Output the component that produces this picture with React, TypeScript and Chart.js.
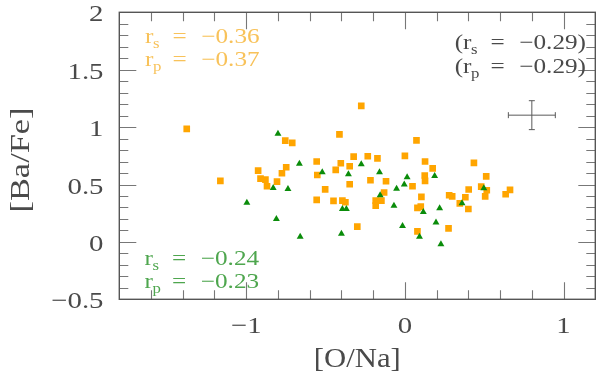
import React, { useEffect, useRef } from "react";
import { Chart, registerables } from "chart.js";

Chart.register(...registerables);

// ---- data ----
const orangeX = [
  -1.375, -0.754, -0.71, -1.163, -0.925, -0.91, -0.879, -0.869, -0.806, -0.775,
  -0.748, -0.556, -0.552, -0.556, -0.275, -0.4125, 0.073, -0.5025, -0.323, -0.404,
  -0.436, -0.348, -0.234, -0.173, -0.348, -0.45, -0.394, -0.375, -0.3, -0.217,
  -0.119, -0.131, -0.184, -0.148, -0.184, 0.0, 0.048, 0.104, 0.127, 0.175,
  0.125, 0.127, 0.079, 0.1, 0.079, 0.275, 0.435, 0.5125, 0.402, 0.481,
  0.516, 0.279, 0.298, 0.381, 0.346, 0.506, 0.4, 0.635, 0.6625,
];
const orangeY = [
  0.984, 0.882, 0.862, 0.531, 0.621, 0.551, 0.543, 0.485, 0.525, 0.598,
  0.65, 0.7, 0.583, 0.366, 1.185, 0.937, 0.885, 0.458, 0.743, 0.685,
  0.627, 0.659, 0.746, 0.728, 0.502, 0.357, 0.36, 0.345, 0.133, 0.537,
  0.528, 0.43, 0.36, 0.36, 0.316, 0.749, 0.485, 0.392, 0.7, 0.641,
  0.578, 0.531, 0.296, 0.307, 0.092, 0.118, 0.688, 0.571, 0.456, 0.482,
  0.45, 0.406, 0.397, 0.389, 0.336, 0.397, 0.287, 0.415, 0.453,
];
const greenX = [
  -0.8, -0.83, -0.737, -0.665, -0.996, -0.81, -0.66, -0.521, -0.356, -0.275,
  -0.394, -0.369, -0.4, -0.16, -0.156, -0.0525, 0.014, -0.004, -0.069, 0.1875,
  0.116, 0.219, -0.015, 0.092, 0.196, 0.227, 0.4975, 0.36,
];
const greenY = [
  0.943, 0.47, 0.46, 0.68, 0.34, 0.2, 0.044, 0.606, 0.589, 0.676,
  0.287, 0.287, 0.07, 0.606, 0.406, 0.462, 0.563, 0.5, 0.314, 0.575,
  0.261, 0.293, 0.139, 0.044, 0.168, -0.021, 0.467, 0.336,
];

// representative error bar
const errX = 0.8;
const errY = 1.104;
const errDx = 0.148;
const errDy = 0.126;

// axes
const xRange = [-1.8, 1.2];
const yRange = [-0.5, 2];
const xTickValues = [-1, 0, 1];
const xTickLabels = ["\u22121", "0", "1"];
const yTickValues = [-0.5, 0, 0.5, 1, 1.5, 2];
const yTickLabels = ["\u22120.5", "0", "0.5", "1", "1.5", "2"];
const xMinorStep = 0.2;
const yMinorStep = 0.1;
const xTitle = "[O/Na]";
const yTitle = "[Ba/Fe]";

// correlation annotations
const orangeStats = ["\u22120.36", "\u22120.37"];
const greenStats = ["\u22120.24", "\u22120.23"];
const allStats = ["\u22120.29", "\u22120.29"];

const ORANGE = "#ffa500";
const GREEN = "#0a8c0a";
const ORANGE_TXT = "#f8c25a";
const GREEN_TXT = "#4ea64e";
const DARK_TXT = "#4a4a4a";
const FONT = '"Liberation Serif", "DejaVu Serif", serif';
const SX = 1.2;

function drawText(
  ctx: CanvasRenderingContext2D,
  s: string,
  x: number,
  y: number,
  size: number,
  color: string,
  align: CanvasTextAlign = "left",
  sx: number = SX,
  rot: number = 0
) {
  ctx.save();
  ctx.translate(x, y);
  if (rot) ctx.rotate(rot);
  ctx.scale(sx, 1);
  ctx.font = `${size}px ${FONT}`;
  ctx.textAlign = align;
  ctx.textBaseline = "alphabetic";
  ctx.fillStyle = color;
  ctx.fillText(s, 0, 0);
  ctx.restore();
}

function fitScale(ctx: CanvasRenderingContext2D, s: string, size: number, target: number) {
  ctx.save();
  ctx.font = `${size}px ${FONT}`;
  const w = ctx.measureText(s).width;
  ctx.restore();
  return target / w;
}

function drawStat(
  ctx: CanvasRenderingContext2D,
  x0: number,
  base: number,
  sub: string,
  val: string,
  color: string,
  paren: boolean
) {
  const size = 21;
  if (paren) drawText(ctx, "(", x0 - 8.2, base, size, color);
  drawText(ctx, "r", x0, base, size, color);
  drawText(ctx, sub, x0 + 8, base + 5, 14, color);
  drawText(ctx, "=", x0 + 27.5, base, size, color);
  drawText(ctx, val + (paren ? ")" : ""), x0 + 56.3, base, size, color);
}

const framePlugin = {
  id: "framePlugin",
  afterDatasetsDraw(chart: any) {
    const ctx: CanvasRenderingContext2D = chart.ctx;
    const { left, right, top, bottom } = chart.chartArea;
    const xs = chart.scales.x;
    const ys = chart.scales.y;
    ctx.save();

    // ticks
    ctx.strokeStyle = "#777";
    ctx.lineWidth = 1.1;
    const eps = 1e-6;
    for (let v = xRange[0] + xMinorStep; v < xRange[1] - eps; v += xMinorStep) {
      const major = Math.abs(v - Math.round(v)) < eps;
      const len = major ? 17 : 9;
      const px = Math.round(xs.getPixelForValue(v)) + 0.5;
      ctx.beginPath();
      ctx.moveTo(px, bottom);
      ctx.lineTo(px, bottom - len);
      ctx.moveTo(px, top);
      ctx.lineTo(px, top + len);
      ctx.stroke();
    }
    for (let v = yRange[0] + yMinorStep; v < yRange[1] - eps; v += yMinorStep) {
      const major = Math.abs(v * 2 - Math.round(v * 2)) < eps;
      const len = major ? 17 : 9;
      const py = Math.round(ys.getPixelForValue(v)) + 0.5;
      ctx.beginPath();
      ctx.moveTo(left, py);
      ctx.lineTo(left + len, py);
      ctx.moveTo(right, py);
      ctx.lineTo(right - len, py);
      ctx.stroke();
    }

    // frame
    ctx.strokeStyle = "#555";
    ctx.lineWidth = 1.4;
    ctx.strokeRect(left, top, right - left, bottom - top);

    // tick labels
    xTickValues.forEach((v, i) => {
      drawText(ctx, xTickLabels[i], xs.getPixelForValue(v), 332.5, 24, DARK_TXT, "center");
    });
    yTickValues.forEach((v, i) => {
      drawText(ctx, yTickLabels[i], 103.5, ys.getPixelForValue(v) + 9, 24, DARK_TXT, "right");
    });

    // axis titles
    const sxX = fitScale(ctx, xTitle, 27, 87);
    drawText(ctx, xTitle, (left + right) / 2, 366.5, 27, DARK_TXT, "center", sxX);
    const sxY = fitScale(ctx, yTitle, 27, 105);
    drawText(ctx, yTitle, 28.5, 160, 27, DARK_TXT, "center", sxY, -Math.PI / 2);

    // error bar
    ctx.strokeStyle = "#5a5a5a";
    ctx.lineWidth = 1;
    const cx = xs.getPixelForValue(errX);
    const cy = ys.getPixelForValue(errY);
    const x1 = xs.getPixelForValue(errX - errDx);
    const x2 = xs.getPixelForValue(errX + errDx);
    const y1 = ys.getPixelForValue(errY + errDy);
    const y2 = ys.getPixelForValue(errY - errDy);
    ctx.beginPath();
    ctx.moveTo(x1, cy);
    ctx.lineTo(x2, cy);
    ctx.moveTo(x1, cy - 3);
    ctx.lineTo(x1, cy + 3);
    ctx.moveTo(x2, cy - 3);
    ctx.lineTo(x2, cy + 3);
    ctx.moveTo(cx, y1);
    ctx.lineTo(cx, y2);
    ctx.moveTo(cx - 3, y1);
    ctx.lineTo(cx + 3, y1);
    ctx.moveTo(cx - 3, y2);
    ctx.lineTo(cx + 3, y2);
    ctx.stroke();

    // annotations
    drawStat(ctx, 145, 43, "s", orangeStats[0], ORANGE_TXT, false);
    drawStat(ctx, 145, 66, "p", orangeStats[1], ORANGE_TXT, false);
    drawStat(ctx, 144.5, 265, "s", greenStats[0], GREEN_TXT, false);
    drawStat(ctx, 144.5, 288, "p", greenStats[1], GREEN_TXT, false);
    drawStat(ctx, 463, 48.5, "s", allStats[0], DARK_TXT, true);
    drawStat(ctx, 463, 73, "p", allStats[1], DARK_TXT, true);

    ctx.restore();
  },
};

export default function App() {
  const ref = useRef<HTMLCanvasElement | null>(null);
  useEffect(() => {
    if (!ref.current) return;
    const chart = new Chart(ref.current, {
      type: "scatter",
      data: {
        datasets: [
          {
            label: "green",
            data: greenX.map((x, i) => ({ x, y: greenY[i] })),
            pointStyle: "triangle",
            pointRadius: 4,
            backgroundColor: GREEN,
            borderWidth: 0,
            order: 0,
          },
          {
            label: "orange",
            data: orangeX.map((x, i) => ({ x, y: orangeY[i] })),
            pointStyle: "rect",
            pointRadius: 4.7,
            backgroundColor: ORANGE,
            borderWidth: 0,
            order: 1,
          },
        ],
      },
      options: {
        animation: false,
        responsive: true,
        maintainAspectRatio: false,
        events: [],
        layout: { padding: { left: 119.3, right: 1, top: 12.3, bottom: 73.7 } },
        plugins: { legend: { display: false }, tooltip: { enabled: false } },
        scales: {
          x: { type: "linear", min: xRange[0], max: xRange[1], display: false },
          y: { type: "linear", min: yRange[0], max: yRange[1], display: false },
        },
      },
      plugins: [framePlugin],
    });
    return () => chart.destroy();
  }, []);
  return (
    <div style={{ position: "absolute", left: 0, top: 0, width: 600, height: 373, background: "#fff" }}>
      <canvas ref={ref} />
    </div>
  );
}
